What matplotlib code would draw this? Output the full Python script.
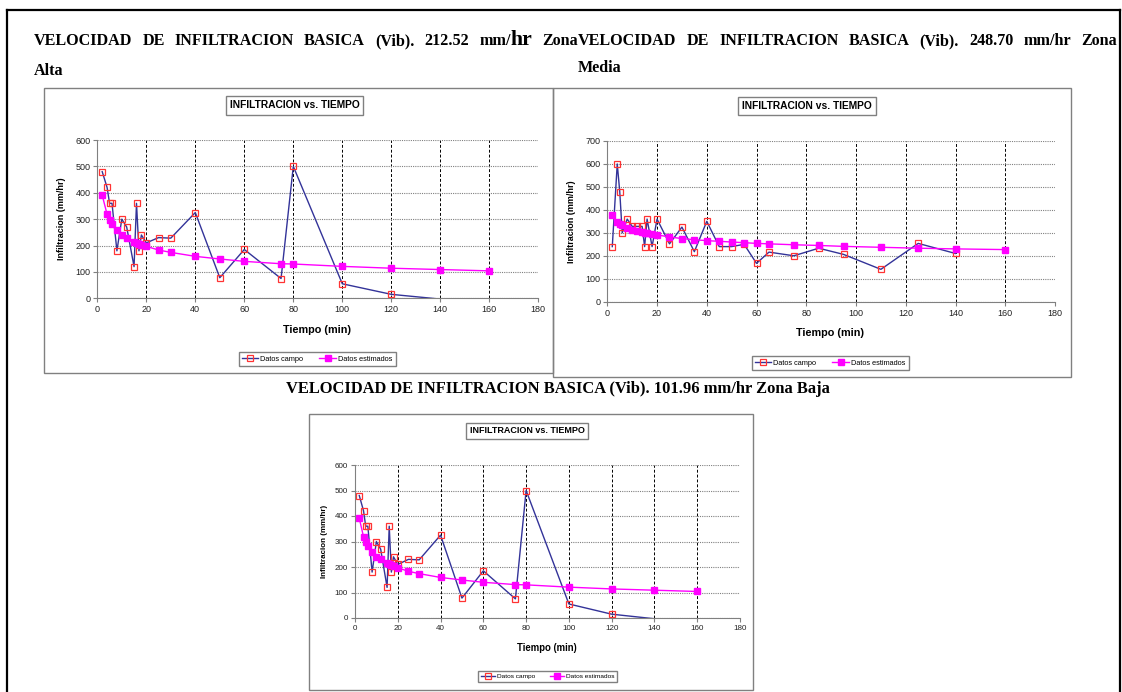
import matplotlib
matplotlib.use("Agg")
import matplotlib.pyplot as plt
from matplotlib.patches import Rectangle
from matplotlib.lines import Line2D

# Zona Alta
alta_t_campo = [2, 4, 5, 6, 8, 10, 12, 15, 16, 17, 18, 20, 25, 30, 40, 50, 60, 75, 80, 100, 120, 140]
alta_campo = [480, 420, 360, 360, 180, 300, 270, 120, 360, 180, 240, 210, 230, 228, 325, 78, 185, 75, 500, 55, 15, -3]
alta_t_est = [2, 4, 5, 6, 8, 10, 12, 15, 16, 17, 18, 20, 25, 30, 40, 50, 60, 75, 80, 100, 120, 140, 160]
alta_est = [391, 318, 297, 282, 259, 241, 230, 215, 210, 206, 202, 197, 183, 174, 159, 149, 140, 131, 130, 121, 114, 109, 104]

# Zona Media
media_t_campo = [2, 4, 5, 6, 8, 10, 12, 14, 15, 16, 18, 20, 25, 30, 35, 40, 45, 50, 55, 60, 65, 75, 85, 95, 110, 125, 140]
media_campo = [240, 600, 480, 300, 360, 328, 328, 328, 240, 360, 240, 360, 252, 325, 218, 350, 240, 240, 250, 167, 216, 200, 233, 206, 141, 254, 210]
media_t_est = [2, 4, 5, 6, 8, 10, 12, 14, 15, 16, 18, 20, 25, 30, 35, 40, 45, 50, 55, 60, 65, 75, 85, 95, 110, 125, 140, 160]
media_est = [378, 349, 340, 333, 322, 314, 308, 303, 300, 298, 294, 291, 282, 275, 270, 266, 263, 260, 257, 254, 252, 248, 245, 241, 237, 233, 230, 227]

# Zona Baja (the document repeats the Alta chart)
baja_t_campo = [2, 4, 5, 6, 8, 10, 12, 15, 16, 17, 18, 20, 25, 30, 40, 50, 60, 75, 80, 100, 120, 140]
baja_campo = [480, 420, 360, 360, 180, 300, 270, 120, 360, 180, 240, 210, 230, 228, 325, 78, 185, 75, 500, 55, 15, -3]
baja_t_est = [2, 4, 5, 6, 8, 10, 12, 15, 16, 17, 18, 20, 25, 30, 40, 50, 60, 75, 80, 100, 120, 140, 160]
baja_est = [391, 318, 297, 282, 259, 241, 230, 215, 210, 206, 202, 197, 183, 174, 159, 149, 140, 131, 130, 121, 114, 109, 104]

x_ticks = list(range(0, 181, 20))
serie_labels = ["Datos campo", "Datos estimados"]
chart_title = "INFILTRACION vs. TIEMPO"

W, H = 1122, 692
SANS = "Liberation Sans"
SERIF = "Liberation Serif"


def fx(x):
    return x / W


def fy(y):
    return 1 - y / H


fig = plt.figure(figsize=(W / 100, H / 100), dpi=100)

# page frame
fig.lines.append(Line2D([fx(7), fx(7)], [fy(10), fy(692)], transform=fig.transFigure, color="black", lw=1.6))
fig.lines.append(Line2D([fx(7), fx(1120)], [fy(10), fy(10)], transform=fig.transFigure, color="black", lw=1.6))
fig.lines.append(Line2D([fx(1120), fx(1120)], [fy(10), fy(692)], transform=fig.transFigure, color="black", lw=1.6))


def chart(box, plot, title_c, legend_c, xlab, ylab_x, t_c, v_c, t_e, v_e, ymax, s=1.0):
    fig.patches.append(Rectangle((fx(box[0]), fy(box[3])), (box[2] - box[0]) / W, (box[3] - box[1]) / H,
                                 transform=fig.transFigure, fill=False, ec="#808080", lw=1))
    ax = fig.add_axes([fx(plot[0]), fy(plot[3]), (plot[2] - plot[0]) / W, (plot[3] - plot[1]) / H])
    ax.set_xlim(0, 180)
    ax.set_ylim(0, ymax)
    ax.set_xticks(x_ticks)
    ax.set_yticks(list(range(0, ymax + 1, 100)))
    ax.set_axisbelow(True)
    ax.yaxis.grid(True, color="#808080", ls=(0, (1, 1)), lw=0.8)
    ax.xaxis.grid(True, color="black", ls=(0, (3, 2)), lw=0.7)
    for side in ["top", "right"]:
        ax.spines[side].set_visible(False)
    for side in ["left", "bottom"]:
        ax.spines[side].set_color("#808080")
    ax.tick_params(labelsize=6.5 * s, length=3, color="#808080", pad=2, labelcolor="#222222")
    for lab in ax.get_xticklabels() + ax.get_yticklabels():
        lab.set_family(SANS)

    marks = [i for i, v in enumerate(v_c) if v >= 0]
    l1, = ax.plot(t_c, v_c, color="#333399", lw=1, marker="s", ms=4.4 * s, mfc="none",
                  mec="#ff3333", mew=0.9, markevery=marks)
    l2, = ax.plot(t_e, v_e, color="#ff00ff", lw=1, marker="s", ms=4.6 * s, mec="#ff00ff")

    leg = ax.legend([l1, l2], serie_labels, loc="center", bbox_to_anchor=(fx(legend_c[0]), fy(legend_c[1])),
                    bbox_transform=fig.transFigure, ncol=2, fancybox=False, edgecolor="#808080",
                    framealpha=1, handlelength=2.2, handletextpad=0.3, columnspacing=2.2, borderpad=0.45,
                    prop={"family": SANS, "size": 5.3 * s})
    leg.get_frame().set_linewidth(1)

    fig.text(fx(title_c[0]), fy(title_c[1]), chart_title, ha="center", va="center", family=SANS,
             weight="bold", fontsize=7.4 * s,
             bbox=dict(boxstyle="square,pad=0.4", fc="white", ec="#808080", lw=1))
    fig.text(fx(xlab[0]), fy(xlab[1]), "Tiempo (min)", ha="center", va="center", family=SANS,
             weight="bold", fontsize=7.8 * s)
    fig.text(fx(ylab_x), fy((plot[1] + plot[3]) / 2), "Infiltracion (mm/hr)", ha="center", va="center",
             rotation=90, family=SANS, weight="bold", fontsize=6.5 * s)


chart((44, 88, 553, 373), (97.3, 140, 538.3, 298.3), (294.5, 105.5), (317, 359), (317, 330), 61,
      alta_t_campo, alta_campo, alta_t_est, alta_est, 600)
chart((553, 88, 1071, 377), (607.3, 141, 1055, 301.7), (807, 106), (830, 363), (830, 333), 571,
      media_t_campo, media_campo, media_t_est, media_est, 700)
chart((309, 414, 753, 690), (355, 465, 740, 618), (527, 431), (547.5, 676.5), (547, 648), 324,
      baja_t_campo, baja_campo, baja_t_est, baja_est, 600, s=0.88)

renderer = fig.canvas.get_renderer()


def justify(tokens, x0, x1, y, size):
    arts = []
    widths = []
    for tok in tokens:
        parts = []
        w = 0
        for txt, k in tok:
            t = fig.text(0, fy(y), txt, fontsize=size * k, family=SERIF, weight="bold", va="baseline")
            bw = t.get_window_extent(renderer).width
            parts.append((t, bw))
            w += bw
        arts.append(parts)
        widths.append(w)
    gap = (x1 - x0 - sum(widths)) / (len(tokens) - 1)
    x = x0
    for parts in arts:
        for t, bw in parts:
            t.set_x(fx(x))
            x += bw
        x += gap


left_line = [[("VELOCIDAD", 1)], [("DE", 1)], [("INFILTRACION", 1)], [("BASICA", 1)], [("(Vib).", 1)],
             [("212.52", 1)], [("mm/", 1), ("hr", 1.35)], [("Zona", 1)]]
right_line = [[("VELOCIDAD", 1)], [("DE", 1)], [("INFILTRACION", 1)], [("BASICA", 1)], [("(Vib).", 1)],
              [("248.70", 1)], [("mm/hr", 1)], [("Zona", 1)]]
justify(left_line, 34, 578, 45, 11.6)
justify(right_line, 578, 1117, 45, 11.6)

fig.text(fx(34), fy(75), "Alta", family=SERIF, weight="bold", fontsize=11.6, va="baseline")
fig.text(fx(578), fy(72), "Media", family=SERIF, weight="bold", fontsize=11.6, va="baseline")
fig.text(fx(558), fy(393), "VELOCIDAD DE INFILTRACION BASICA (Vib). 101.96 mm/hr Zona Baja", ha="center",
         family=SERIF, weight="bold", fontsize=11.9, va="baseline")

fig.savefig("out.png", dpi=100)
